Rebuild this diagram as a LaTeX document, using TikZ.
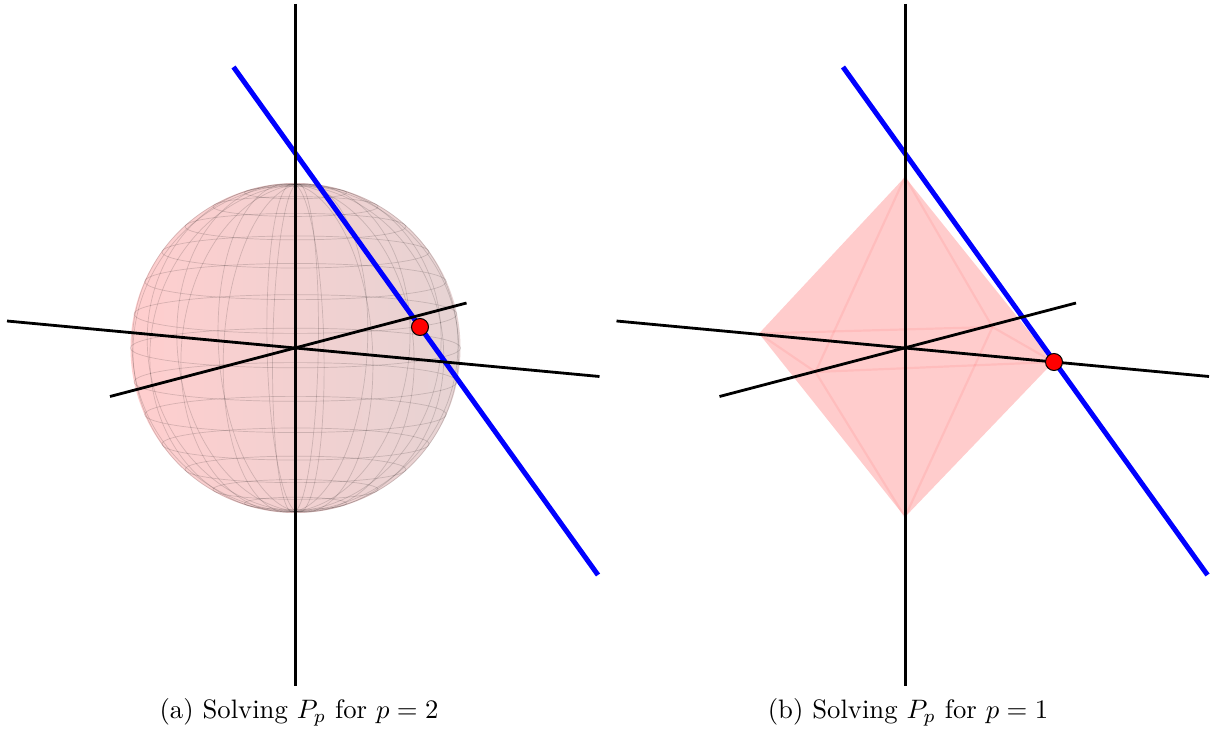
\documentclass[tikz,border=0pt]{standalone}
\definecolor{ballleft}{RGB}{255,206,206}
\definecolor{ballright}{RGB}{230,211,211}
\tikzset{
  axisline/.style={line width=2.8pt},
  feasline/.style={blue,line width=5pt},
  griddraw/.style={black,opacity=.15,line width=.7pt},
  edgedraw/.style={red,opacity=.07,line width=2.2pt},
  optdot/.style={circle,draw=black,fill=red,line width=1pt,inner sep=0pt,minimum size=17pt},
  capt/.style={inner sep=0pt,scale=2.67}
}
\newcommand{\axesandline}{
\coordinate (zt) at (295.7,4); \coordinate (zb) at (295.7,686);
\coordinate (xl) at (7,321); \coordinate (xr) at (599.5,376.5);
\coordinate (yl) at (110,396.5); \coordinate (yr) at (466.5,303);
\coordinate (lt) at (233.5,67); \coordinate (lb) at (598,575);
\draw[feasline] (lt) -- (lb);
\draw[axisline] (zt) -- (zb);
\draw[axisline] (xl) -- (xr);
\draw[axisline] (yl) -- (yr);
}
\begin{document}
\begin{tikzpicture}[x=1pt,y=-1pt]
\useasboundingbox (0,0) rectangle (1216,730);
% left panel
\shade[left color=ballleft,right color=ballright] (295.5,348) circle[radius=165];
\foreach \lat in {-72,-60,...,72}
  \draw[griddraw] plot[domain=0:360,samples=73,smooth]
    ({295.5+165*cos(\lat)*cos(\x)},{348-165*sin(\lat)*.99-165*cos(\lat)*sin(\x)*.12});
\foreach \lon in {8,26,...,170}
  \draw[griddraw] plot[domain=0:360,samples=73,smooth]
    ({295.5+165*cos(\x)*sin(\lon)},{348-165*sin(\x)*.99-165*cos(\x)*cos(\lon)*.12});
\axesandline
\node[optdot] (dotA) at (420,327) {};
\node[capt] (captA) at (299,712.5) {(a) Solving $P_p$ for $p=2$};
% right panel
\begin{scope}[xshift=609.5pt]
\coordinate (top) at (295.5,177); \coordinate (bot) at (295.5,517);
\coordinate (lft) at (149.5,333.5); \coordinate (rgt) at (444,362);
\coordinate (bck) at (383,327); \coordinate (frt) at (206,372);
\fill[red!20] (top) -- (lft) -- (bot) -- (rgt) -- cycle;
\draw[edgedraw] (top) -- (bck);
\draw[edgedraw] (top) -- (frt);
\draw[edgedraw] (bot) -- (bck);
\draw[edgedraw] (bot) -- (frt);
\draw[edgedraw] (lft) -- (bck);
\draw[edgedraw] (lft) -- (frt);
\draw[edgedraw] (rgt) -- (bck);
\draw[edgedraw] (rgt) -- (frt);
\axesandline
\node[optdot] (dotB) at (444.5,362) {};
\node[capt] (captB) at (298.5,712.5) {(b) Solving $P_p$ for $p=1$};
\end{scope}
\end{tikzpicture}
\end{document}
